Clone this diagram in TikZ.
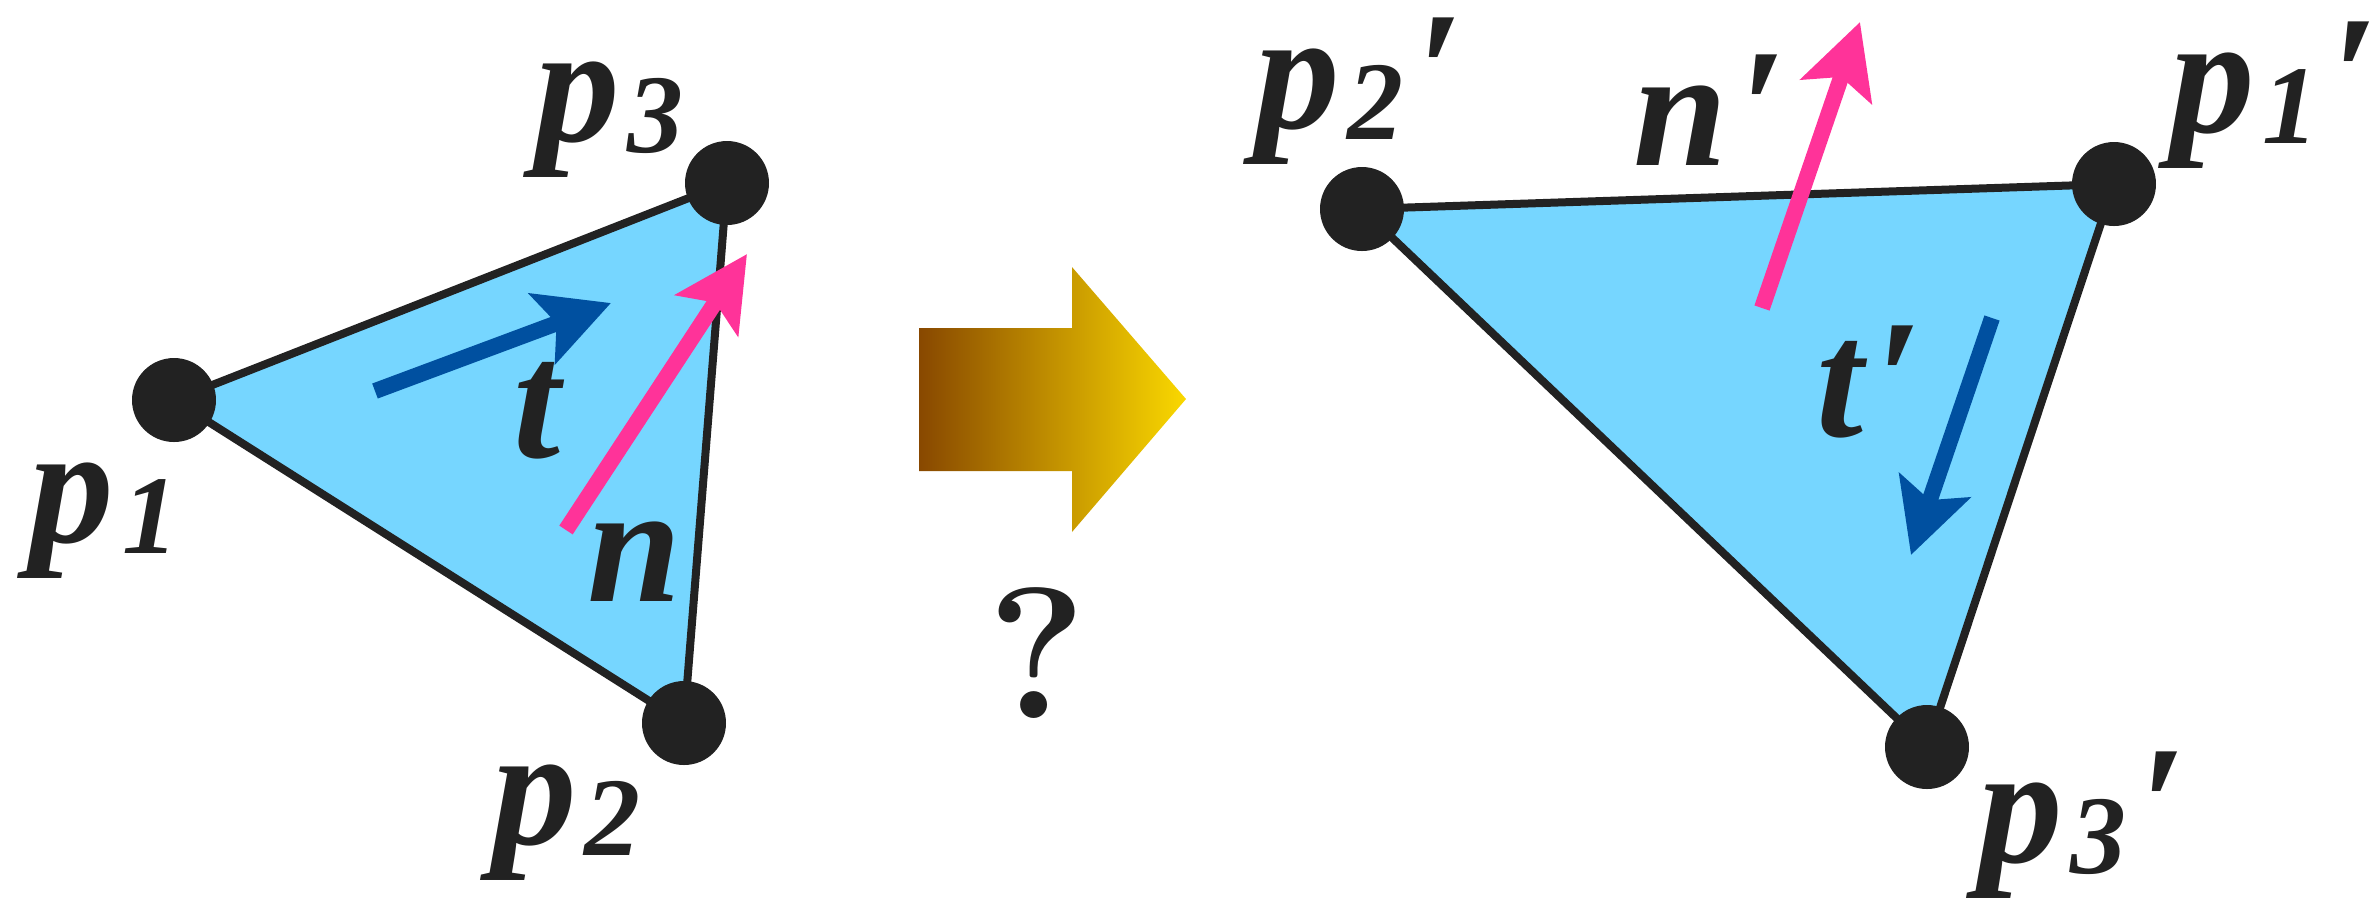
\documentclass[tikz,border=0pt]{standalone}
\usepackage{fontspec}
\usepackage{tikz}
\usetikzlibrary{arrows.meta}
\newfontfamily\lblfamily{Liberation Serif}
\definecolor{ink}{HTML}{222222}
\definecolor{face}{HTML}{76D6FF}
\definecolor{nrm}{HTML}{FF3399}
\definecolor{tng}{HTML}{0050A0}
\definecolor{umber}{HTML}{884800}
\definecolor{gold}{HTML}{FAD800}
\newcommand{\lsub}[1]{\kern0.8pt\raisebox{-1.1pt}{\fontsize{11.2}{13}\selectfont #1}}
\newcommand{\lprm}{\kern1.2pt\rlap{\char"2032}}
\tikzset{
  tri/.style={draw=ink, fill=face, line width=0.8pt, line join=round},
  vdot/.style={circle, fill=ink, minimum size=8.4pt, inner sep=0pt},
  vec/.style={line width=1.6pt, -{Stealth[length=7.3pt, width=7.4pt, inset=1.5pt]}},
  lbl/.style={anchor=base west, inner sep=0pt, text=ink,
              font=\lblfamily\bfseries\itshape\fontsize{16.9}{20}\selectfont}
}

\begin{document}
\begin{tikzpicture}[x=0.1pt, y=-0.1pt]
  \useasboundingbox (0,0) rectangle (2373,904);
  \coordinate (a1) at (174,400); \coordinate (a2) at (684,723); \coordinate (a3) at (727,183);
  \coordinate (b1) at (2114,184); \coordinate (b2) at (1362,209); \coordinate (b3) at (1927,747);
  \filldraw[tri] (a1) -- (a3) -- (a2) -- cycle;
  \filldraw[tri] (b2) -- (b1) -- (b3) -- cycle;
  \coordinate (t0) at (375,391); \coordinate (t1) at (611,303);
  \coordinate (n0) at (566,530); \coordinate (n1) at (747,254);
  \coordinate (s0) at (1762,308); \coordinate (s1) at (1860,22);
  \coordinate (u0) at (1992,318); \coordinate (u1) at (1911,555);
  \draw[vec, tng] (t0) -- (t1);
  \draw[vec, nrm] (n0) -- (n1);
  \draw[vec, nrm] (s0) -- (s1);
  \draw[vec, tng] (u0) -- (u1);
  \foreach \v in {a1,a2,a3,b1,b2,b3} \node[vdot] (d\v) at (\v) {};
  \shade[left color=umber, right color=gold] (919,328) -- (1072,328) -- (1072,267) -- (1186,399)
    -- (1072,532) -- (1072,471) -- (919,471) -- cycle;
  \node[text=ink, inner sep=0pt, font=\fontsize{18.7}{20}\selectfont\bfseries] (q) at (1037,653) {?};
  \node[lbl] (lp1) at (28,542) {p\lsub{1}};
  \node[lbl] (lp2) at (490,844) {p\lsub{2}};
  \node[lbl] (lp3) at (533,141) {p\lsub{3}};
  \node[lbl] (lt) at (511,457) {t};
  \node[lbl] (ln) at (585,601) {n};
  \node[lbl] (lq2) at (1253,128) {p\lsub{2}\lprm};
  \node[lbl] (lq1) at (2168,132) {p\lsub{1}\lprm};
  \node[lbl] (lq3) at (1976,862) {p\lsub{3}\lprm};
  \node[lbl] (ltp) at (1814,436) {t\lprm};
  \node[lbl] (lnp) at (1631,165) {n\lprm};
\end{tikzpicture}
\end{document}
